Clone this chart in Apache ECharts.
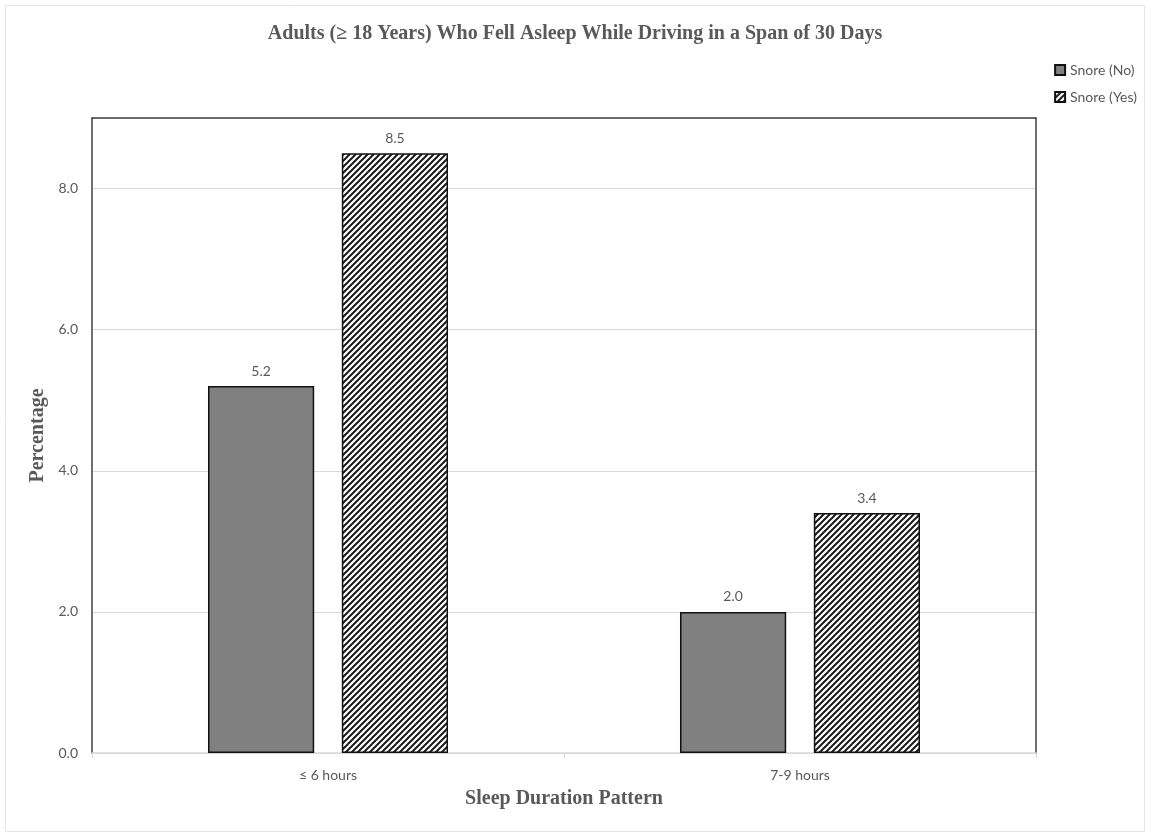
<!DOCTYPE html>
<html>
<head>
<meta charset="utf-8">
<script src="https://cdn.jsdelivr.net/npm/echarts@6/dist/echarts.min.js"></script>
<style>html,body{margin:0;padding:0;background:#fff}#c{width:1150px;height:837px}</style>
</head>
<body>
<div id="c"></div>
<script>
var categories = ['≤ 6 hours', '7-9 hours'];
var seriesNames = ['Snore (No)', 'Snore (Yes)'];
var snoreNo = [5.2, 2.0];
var snoreYes = [8.5, 3.4];
var yTicks = [0, 2, 4, 6, 8];

function hatch() {
  var s = 6;
  var cv = document.createElement('canvas');
  cv.width = s; cv.height = s;
  var ctx = cv.getContext('2d');
  ctx.fillStyle = '#ffffff';
  ctx.fillRect(0, 0, s, s);
  ctx.strokeStyle = '#1a1a1a';
  ctx.lineWidth = 2;
  ctx.beginPath();
  ctx.moveTo(-1, s + 1); ctx.lineTo(s + 1, -1);
  ctx.moveTo(-1, 1); ctx.lineTo(1, -1);
  ctx.moveTo(s - 1, s + 1); ctx.lineTo(s + 1, s - 1);
  ctx.stroke();
  return cv;
}

var chart = echarts.init(document.getElementById('c'));
var labelFont = 'Lato';
var grey = '#595959';
chart.setOption({
  animation: false,
  backgroundColor: '#ffffff',
  title: {
    text: 'Adults (\u2265 18 Years) Who Fell Asleep While Driving in a Span of 30 Days',
    left: 'center', top: 19,
    textStyle: { fontFamily: 'Liberation Serif', fontWeight: 'bold', fontSize: 20, color: grey }
  },
  legend: {
    orient: 'vertical', right: 8, top: 58,
    icon: 'rect',
    itemWidth: 10, itemHeight: 10, itemGap: 13,
    textStyle: { fontFamily: labelFont, fontSize: 14, color: grey },
    data: seriesNames
  },
  grid: { left: 92, right: 114, top: 118, bottom: 84 },
  xAxis: [{
    type: 'category', data: categories,
    name: 'Sleep Duration Pattern', nameLocation: 'middle', nameGap: 36,
    nameTextStyle: { fontFamily: 'Liberation Serif', fontWeight: 'bold', fontSize: 20, color: grey },
    axisLine: { lineStyle: { color: '#d9d9d9', width: 1.5 } },
    axisTick: { show: true, length: 5, lineStyle: { color: '#d9d9d9' } },
    axisLabel: { margin: 15, fontFamily: labelFont, fontSize: 14, color: grey }
  }, {
    type: 'category', data: categories, position: 'top',
    axisLine: { show: true, onZero: false, lineStyle: { color: '#404040', width: 1.5 } },
    axisTick: { show: false }, axisLabel: { show: false }
  }],
  yAxis: [{
    type: 'value', min: 0, max: 9, interval: 2,
    name: 'Percentage', nameLocation: 'middle', nameGap: 44,
    nameTextStyle: { fontFamily: 'Liberation Serif', fontWeight: 'bold', fontSize: 20, color: grey },
    axisLine: { show: true, lineStyle: { color: '#404040', width: 1.5 } },
    axisTick: { show: false },
    splitLine: { lineStyle: { color: '#d9d9d9', width: 1 } },
    axisLabel: {
      margin: 14, fontFamily: labelFont, fontSize: 14, color: grey,
      formatter: function (v) { return yTicks.indexOf(v) >= 0 ? v.toFixed(1) : ''; }
    }
  }, {
    type: 'value', min: 0, max: 9, interval: 2, position: 'right',
    axisLine: { show: true, onZero: false, lineStyle: { color: '#404040', width: 1.5 } },
    axisTick: { show: false }, axisLabel: { show: false }, splitLine: { show: false }
  }],
  graphic: [{
    type: 'rect', silent: true, z: -10,
    shape: { x: 5.5, y: 5.5, width: 1139, height: 826 },
    style: { fill: 'none', stroke: '#e6e6e6', lineWidth: 1 }
  }],
  series: [{
    name: seriesNames[0], type: 'bar', data: snoreNo,
    barWidth: '22.5%', barGap: '26%',
    itemStyle: { color: '#808080', borderColor: '#111111', borderWidth: 1.5 },
    label: { show: true, position: 'top', distance: 8, fontFamily: labelFont, fontSize: 14, color: grey,
      formatter: function (p) { return p.value.toFixed(1); } }
  }, {
    name: seriesNames[1], type: 'bar', data: snoreYes,
    barWidth: '22.5%', barGap: '26%',
    itemStyle: { color: { image: hatch(), repeat: 'repeat' }, borderColor: '#111111', borderWidth: 1.5 },
    label: { show: true, position: 'top', distance: 8, fontFamily: labelFont, fontSize: 14, color: grey,
      formatter: function (p) { return p.value.toFixed(1); } }
  }]
});
</script>
</body>
</html>
